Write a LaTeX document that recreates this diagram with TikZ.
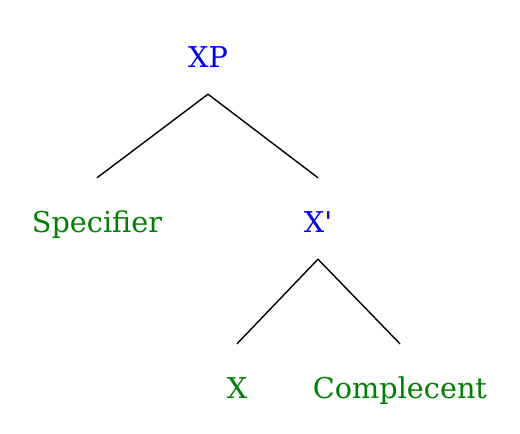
\documentclass[tikz,border=0pt]{standalone}
\usepackage{fontspec}
\setmainfont{DejaVu Serif}
\newfontfamily\treefont{DejaVu Serif}
\definecolor{catblue}{RGB}{0,0,255}
\definecolor{wordgreen}{RGB}{0,128,0}
\tikzset{
  phrase/.style={text=catblue, inner sep=0pt, text height=54pt, text depth=27pt, anchor=base, font=\treefont\fontsize{28.7}{34}\selectfont},
  word/.style={phrase, text=wordgreen},
  branch/.style={line width=1.4pt}
}
\begin{document}
\begin{tikzpicture}[x=1pt, y=-1pt]
    \useasboundingbox (0,0) rectangle (520,434);
    \node[phrase] (XP) at (208,67) {XP};
    \node[word] (spec) at (97,232) {Specifier};
    \node[phrase] (Xbar) at (318,232) {X\textquotesingle};
    \node[word] (head) at (237,398) {X};
    \node[word] (comp) at (400,398) {Complecent};
    \draw[branch] (XP.south) -- (spec.north);
    \draw[branch] (XP.south) -- (Xbar.north);
    \draw[branch] (Xbar.south) -- (head.north);
    \draw[branch] (Xbar.south) -- (comp.north);
\end{tikzpicture}
\end{document}
